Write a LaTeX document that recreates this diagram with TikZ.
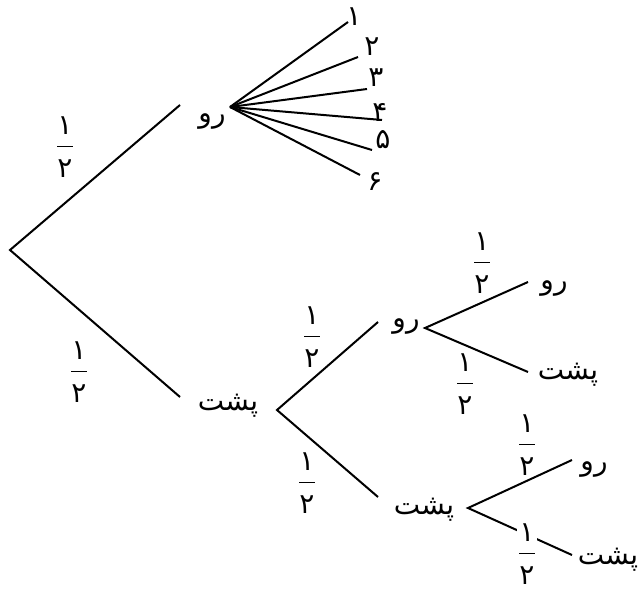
\documentclass[tikz,border=0pt]{standalone}
\usepackage{fontspec}
\newfontfamily\arabicfont[Script=Arabic]{DejaVu Sans}
\TeXXeTstate=1
\newcommand{\fa}[1]{{\arabicfont\beginR #1\endR}}
\newcommand{\half}{\ensuremath{\displaystyle\frac{\hbox{\arabicfont ۱}\rule[-4.5pt]{0pt}{4.5pt}}{\rule{0pt}{14pt}\hbox{\arabicfont ۲}}}}
\begin{document}
\begin{tikzpicture}[x=.5pt,y=-.5pt,line width=1pt,font=\fontsize{14}{16}\selectfont,halfnode/.style={fill=white,inner sep=0pt}]
\useasboundingbox (0,0) rectangle (643,594);
\coordinate (root) at (10,250);
\coordinate (hin) at (180,105);\coordinate (hout) at (230,107);\node (h) at (212,122) {\fa{رو}};
\coordinate (tin) at (180,397);\coordinate (tout) at (277,410);\node (t) at (228,406) {\fa{پشت}};
\draw (hin)--(root)--(tin);
\foreach \n/\d/\ex/\ey/\lx/\ly in {1/۱/348/22/354/17,2/۲/358/57/372/47,3/۳/367/89/376/78,4/۴/382/120/380/112,5/۵/372/150/383/140,6/۶/360/175/375/182}{\coordinate (e\n) at (\ex,\ey);\node (d\n) at (\lx,\ly) {\fa{\d}};\draw (hout)--(e\n);}
\coordinate (thin) at (378,322);\coordinate (thout) at (425,328);\node (th) at (406,326) {\fa{رو}};
\coordinate (ttin) at (378,497);\coordinate (ttout) at (468,508);\node (tt) at (424,510) {\fa{پشت}};
\draw (thin)--(tout)--(ttin);
\coordinate (thhin) at (528,282);\node (thh) at (554,288) {\fa{رو}};
\coordinate (thtin) at (528,372);\node (tht) at (568,375) {\fa{پشت}};
\draw (thhin)--(thout)--(thtin);
\coordinate (tthin) at (572,460);\node (tth) at (594,469) {\fa{رو}};
\coordinate (tttin) at (572,555);\node (ttt) at (608,560) {\fa{پشت}};
\draw (tthin)--(ttout)--(tttin);
\foreach \n/\x/\y in {1/65/147,2/79/372,3/312/337,4/307/483,5/482/263,6/465/384,7/527/445,8/527/554}{\node[halfnode] (f\n) at (\x,\y) {\half};}
\end{tikzpicture}
\end{document}
